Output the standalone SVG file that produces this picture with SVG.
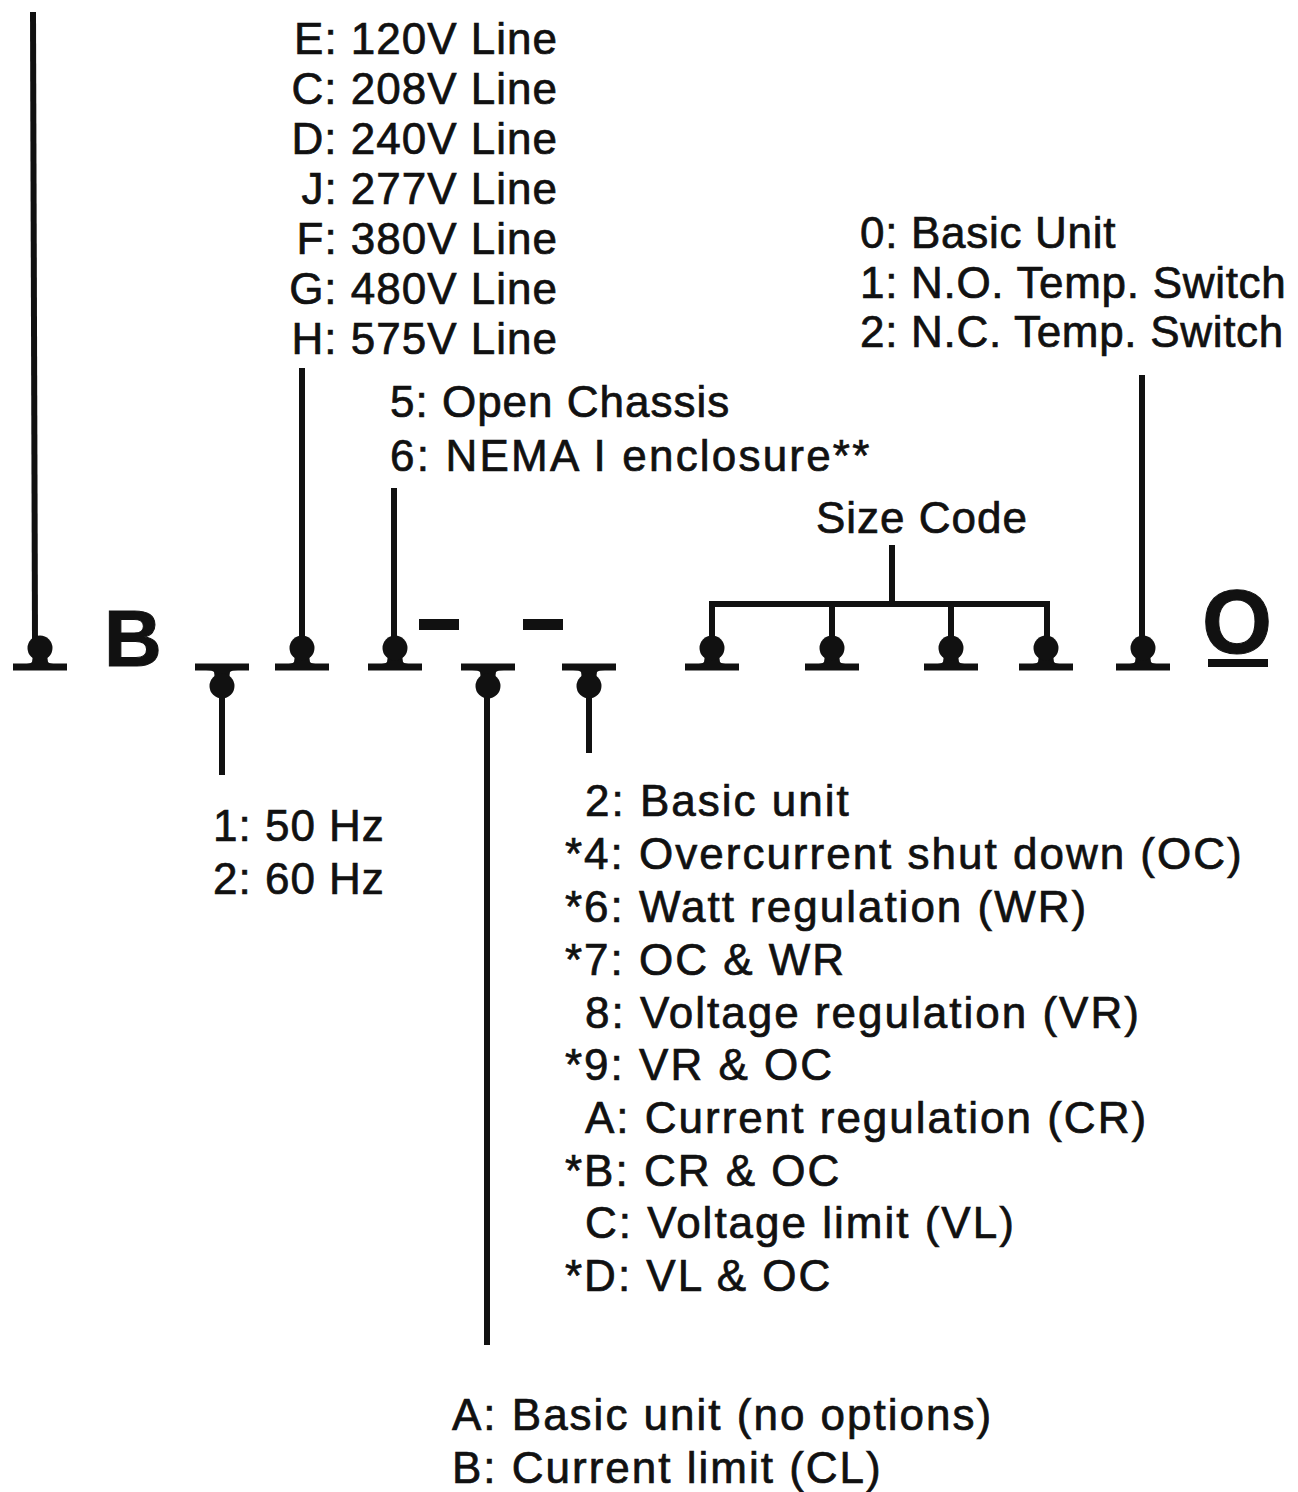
<svg xmlns="http://www.w3.org/2000/svg" xmlns:xlink="http://www.w3.org/1999/xlink" width="1298" height="1492" viewBox="0 0 1298 1492">
<style>
text{font-family:"Liberation Sans",Arial,Helvetica,sans-serif;font-size:44px;fill:#111;stroke:#111;stroke-width:0.7px}
.big{font-weight:bold;stroke-width:1px}
.ln{stroke:#111;stroke-width:6;fill:none;stroke-linecap:butt}
.v{letter-spacing:1px}
.r{letter-spacing:2px}
.t{letter-spacing:0.7px}
</style>
<defs>
<g id="pinUp">
<rect x="-27" y="-3.5" width="54" height="7" fill="#111"/>
<path d="M-7,-12 L7,-12 L8,-5 Q10,-3 16,-3 L-16,-3 Q-10,-3 -8,-5 Z" fill="#111"/>
<circle cx="0" cy="-19" r="12.5" fill="#111"/>
</g>
<g id="pinDown">
<rect x="-27" y="-3.5" width="54" height="7" fill="#111"/>
<path d="M-7,12 L7,12 L8,5 Q10,3 16,3 L-16,3 Q-10,3 -8,5 Z" fill="#111"/>
<circle cx="0" cy="19" r="12.5" fill="#111"/>
</g>
</defs>
<rect width="1298" height="1492" fill="#fff"/>

<g id="connectors">
<line class="ln" x1="33" y1="12" x2="35" y2="640"/>
<line class="ln" x1="222" y1="690" x2="222" y2="775"/>
<line class="ln" x1="302" y1="368" x2="302" y2="640"/>
<line class="ln" x1="394" y1="488" x2="394" y2="640"/>
<line class="ln" x1="487" y1="690" x2="487" y2="1345"/>
<line class="ln" x1="589" y1="690" x2="589" y2="753"/>
<line class="ln" x1="892" y1="545" x2="892" y2="604"/>
<polyline class="ln" points="712,640 712,604 1047,604 1047,640"/>
<line class="ln" x1="832" y1="604" x2="832" y2="640"/>
<line class="ln" x1="951" y1="604" x2="951" y2="640"/>
<line class="ln" x1="1142" y1="375" x2="1142" y2="640"/>
</g>

<g id="slot1"><use xlink:href="#pinUp" x="40" y="667"/></g>
<g id="letterB"><text class="big" x="104" y="666" style="font-size:80px">B</text></g>
<g id="slot2"><use xlink:href="#pinDown" x="222" y="667"/></g>
<g id="slot3"><use xlink:href="#pinUp" x="302" y="667"/></g>
<g id="slot4"><use xlink:href="#pinUp" x="395" y="667"/></g>
<g id="dash1"><rect x="419" y="619" width="40" height="11" fill="#111"/></g>
<g id="slot5"><use xlink:href="#pinDown" x="488" y="667"/></g>
<g id="dash2"><rect x="523" y="619" width="40" height="11" fill="#111"/></g>
<g id="slot6"><use xlink:href="#pinDown" x="589" y="667"/></g>
<g id="size1"><use xlink:href="#pinUp" x="712" y="667"/></g>
<g id="size2"><use xlink:href="#pinUp" x="832" y="667"/></g>
<g id="size3"><use xlink:href="#pinUp" x="951" y="667"/></g>
<g id="size4"><use xlink:href="#pinUp" x="1046" y="667"/></g>
<g id="slotTemp"><use xlink:href="#pinUp" x="1143" y="667"/></g>
<g id="letterO">
<text class="big" x="1237" y="653" style="font-size:90px" text-anchor="middle">O</text>
<rect x="1208" y="659" width="60" height="8" fill="#111"/>
</g>

<g id="voltage" text-anchor="end" class="v">
<text x="558" y="54">E: 120V Line</text>
<text x="558" y="104">C: 208V Line</text>
<text x="558" y="154">D: 240V Line</text>
<text x="558" y="204">J: 277V Line</text>
<text x="558" y="254">F: 380V Line</text>
<text x="558" y="304">G: 480V Line</text>
<text x="558" y="354">H: 575V Line</text>
</g>

<g id="enclosure">
<text x="390" y="417" style="letter-spacing:1px">5: Open Chassis</text>
<text x="390" y="471" style="letter-spacing:2.2px">6: NEMA I enclosure**</text>
</g>

<g id="sizecode"><text x="922" y="533" text-anchor="middle" class="v">Size Code</text></g>

<g id="temp" class="t">
<text x="860" y="248">0: Basic Unit</text>
<text x="860" y="298">1: N.O. Temp. Switch</text>
<text x="860" y="347">2: N.C. Temp. Switch</text>
</g>

<g id="freq" class="v">
<text x="213" y="841">1: 50 Hz</text>
<text x="213" y="894">2: 60 Hz</text>
</g>

<g id="options" class="r">
<text x="585" y="816">2: Basic unit</text>
<text x="565" y="869">*4: Overcurrent shut down (OC)</text>
<text x="565" y="922">*6: Watt regulation (WR)</text>
<text x="565" y="975">*7: OC &amp; WR</text>
<text x="585" y="1028">8: Voltage regulation (VR)</text>
<text x="565" y="1080">*9: VR &amp; OC</text>
<text x="585" y="1133">A: Current regulation (CR)</text>
<text x="565" y="1186">*B: CR &amp; OC</text>
<text x="585" y="1238">C: Voltage limit (VL)</text>
<text x="565" y="1291">*D: VL &amp; OC</text>
</g>

<g id="limit" class="r">
<text x="452" y="1430">A: Basic unit (no options)</text>
<text x="452" y="1483">B: Current limit (CL)</text>
</g>
</svg>
